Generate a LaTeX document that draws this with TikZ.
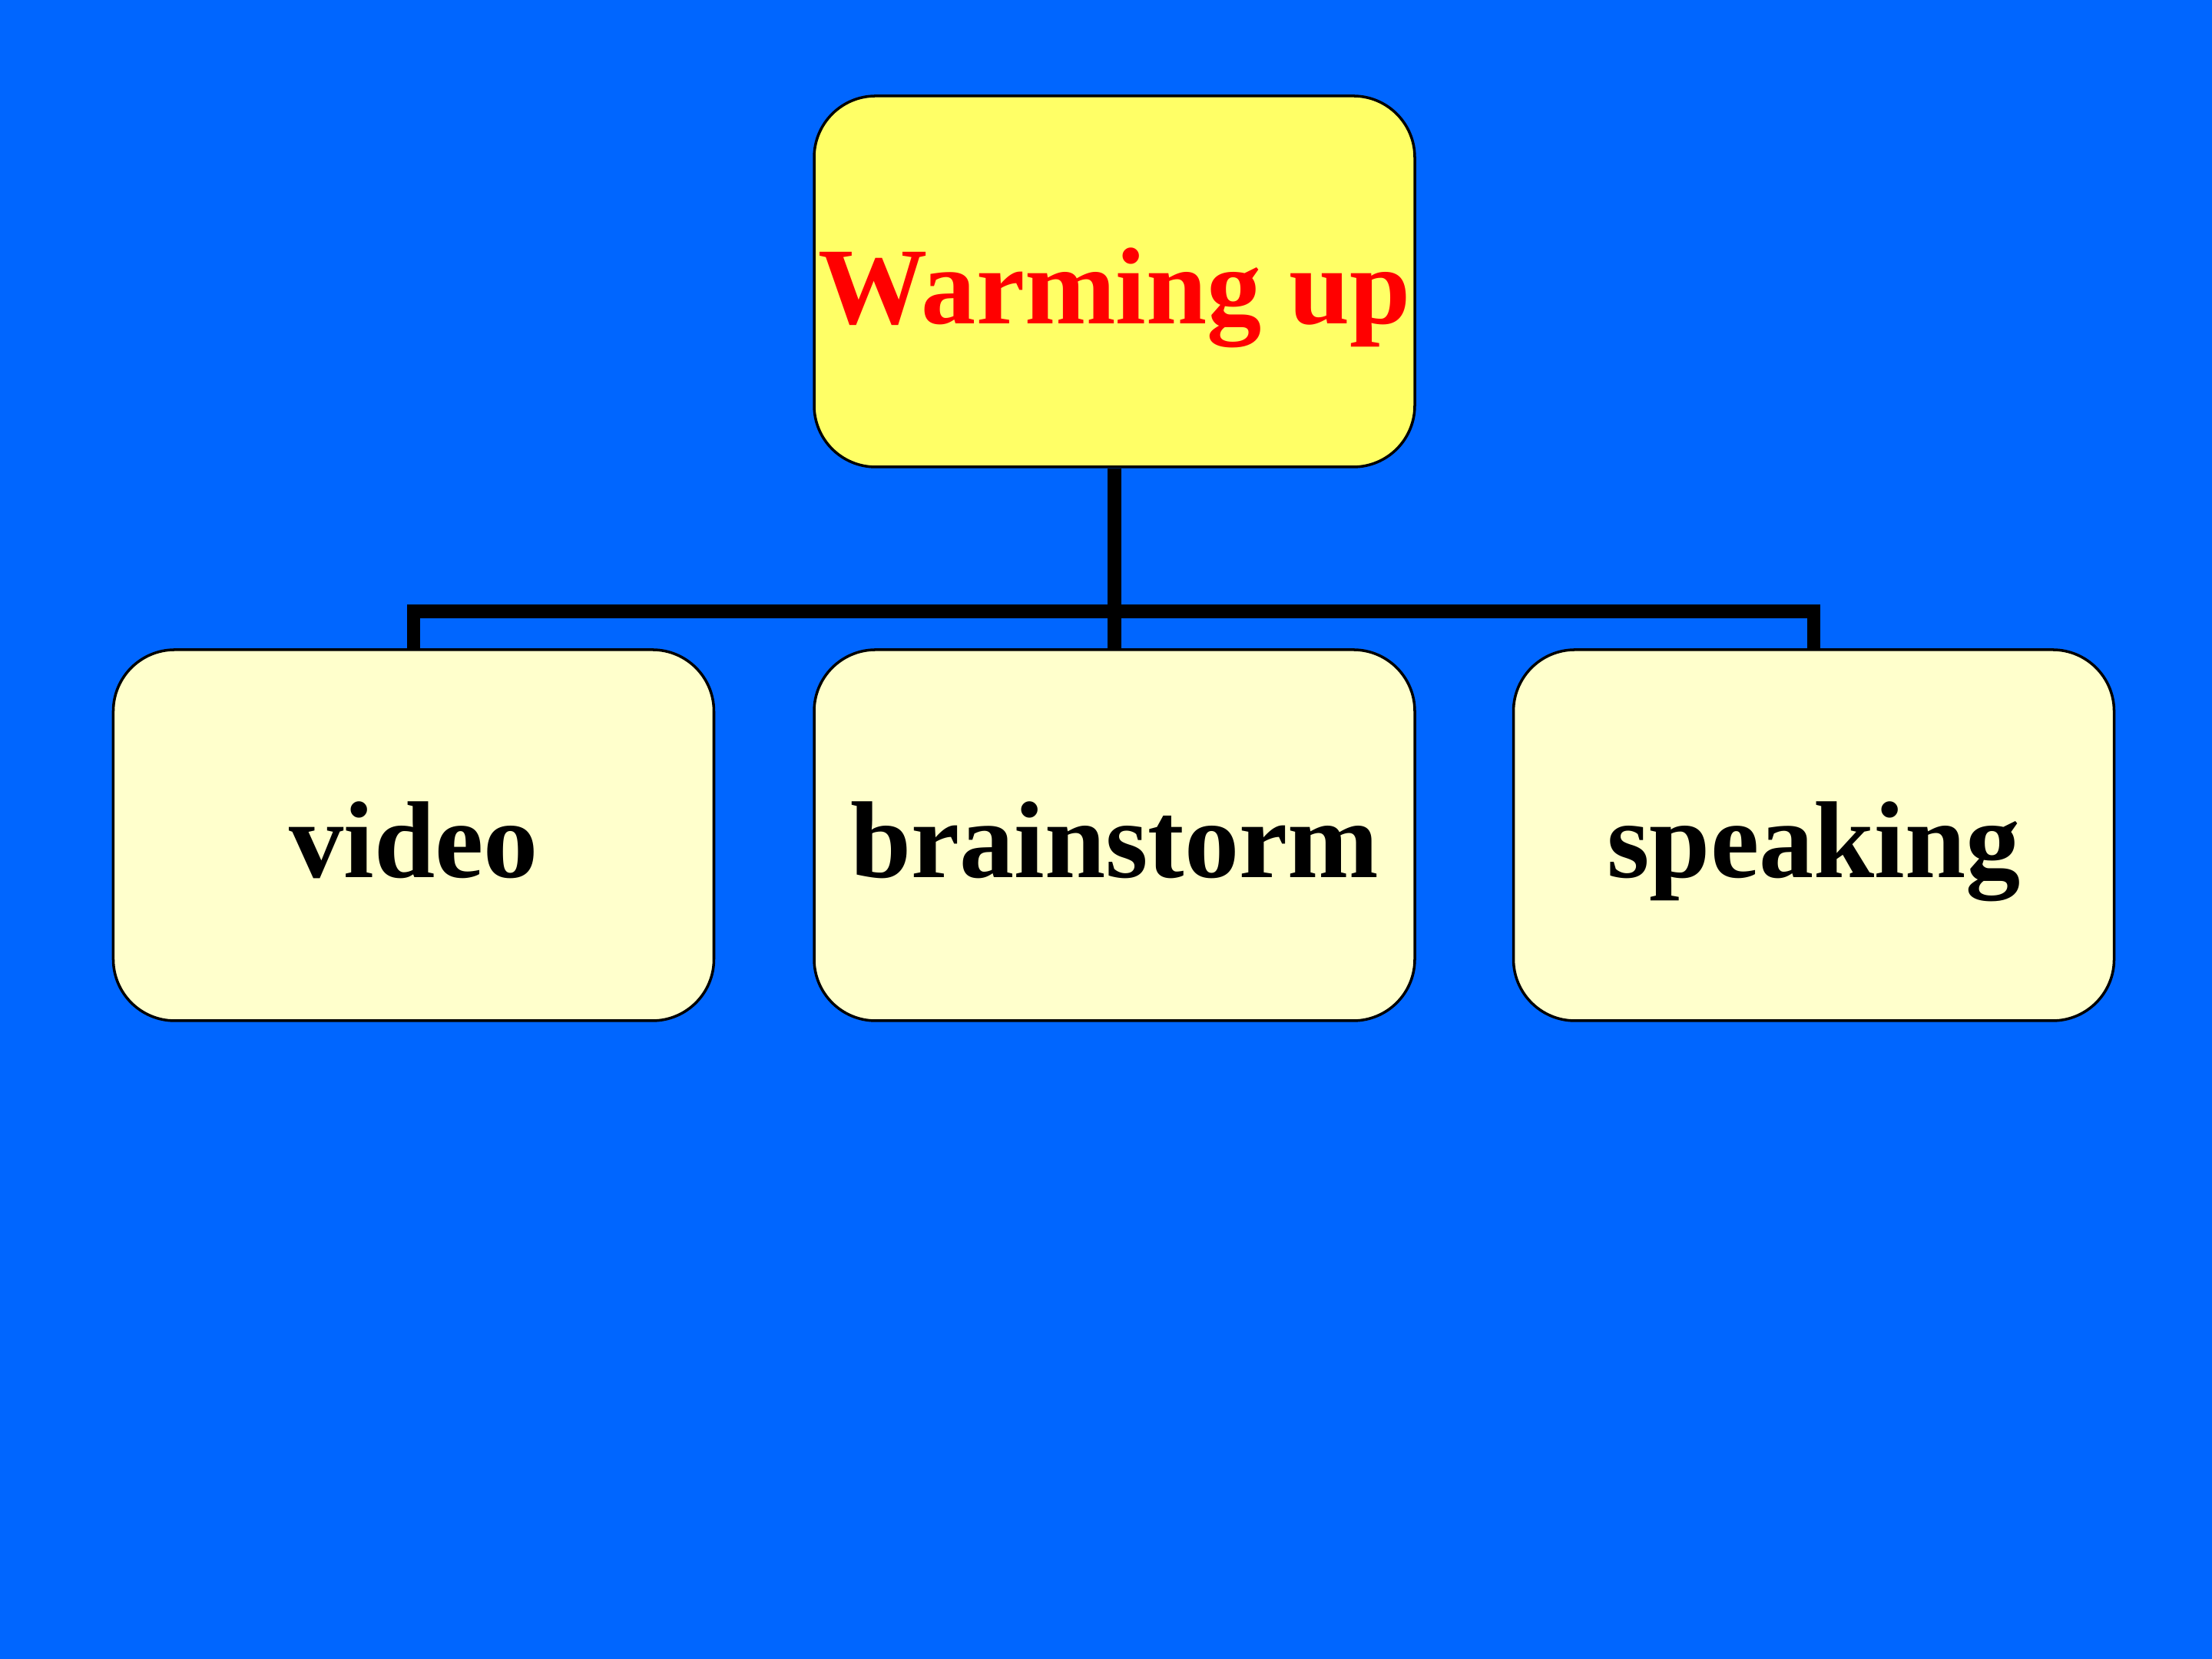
\documentclass[tikz,border=0pt]{standalone}
\usepackage{fontspec}
\setmainfont{Liberation Serif}
\usepackage{xcolor}
\usepackage{tikz}
\usetikzlibrary{positioning}
\definecolor{slideblue}{RGB}{0,102,255}
\definecolor{headyellow}{RGB}{255,255,102}
\definecolor{itemyellow}{RGB}{255,255,204}
\definecolor{headred}{RGB}{255,0,0}
\tikzstyle{topicbox} = [draw=black, line width=1pt, rounded corners=0.8cm,
    minimum width=7.82cm, minimum height=4.83cm, inner sep=0pt,
    text height=1.1cm, text depth=0pt,
    font=\fontsize{40.5}{48}\selectfont\bfseries]
\tikzstyle{branch} = [line width=5pt, draw=black]

\begin{document}
\begin{tikzpicture}
    % slide background
    \fill[slideblue] (0,0) rectangle (28.8,21.6);
    \useasboundingbox (0,0) rectangle (28.8,21.6);

    % heading
    \node[topicbox, fill=headyellow, text=headred] (warm) at (14.51,17.935) {Warming up};

    % items
    \node[topicbox, fill=itemyellow] (brain) at (14.51,10.725) {brainstorm};
    \node[topicbox, fill=itemyellow, left=1.27cm of brain] (video) {video};
    \node[topicbox, fill=itemyellow, right=1.25cm of brain] (speak) {speaking};

    % tree lines
    \coordinate (bar) at (14.51,13.64);
    \draw[branch] (warm.south) -- (warm.south |- bar);
    \draw[branch] (video.north) |- (speak.north |- bar) -- (speak.north);
    \draw[branch] (brain.north) -- (brain.north |- bar);
\end{tikzpicture}
\end{document}
